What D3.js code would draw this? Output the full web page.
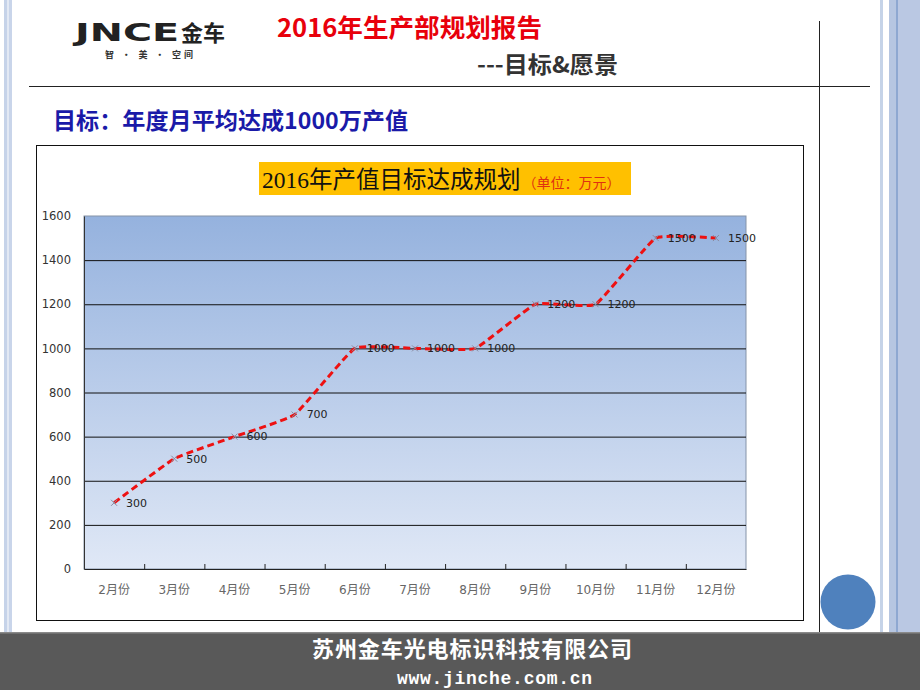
<!DOCTYPE html>
<html>
<head>
<meta charset="utf-8">
<script src="https://cdn.jsdelivr.net/npm/d3@7"></script>
<style>
  body { margin: 0; background: #fff; }
  svg { display: block; }
</style>
</head>
<body>
<div id="slide"></div>
<script>

// chart data
let months = ["2月份", "3月份", "4月份", "5月份", "6月份", "7月份", "8月份", "9月份", "10月份", "11月份", "12月份"];
let targets = [300, 500, 600, 700, 1000, 1000, 1000, 1200, 1200, 1500, 1500];
let yTicks = [0, 200, 400, 600, 800, 1000, 1200, 1400, 1600];


let W = 920; let H = 690;
let plot = {left: 84, right: 746, top: 216, bottom: 569};

let svg = d3.select("#slide")
    .append("svg")
    .attr("width", W)
    .attr("height", H);

svg.append("rect").attr("width", W).attr("height", H).attr("fill", "#fff");

// side stripes of the slide theme
let stripes = [
  [4, 3, "#c6d3e9"], [7, 2, "#e3e9f4"], [9, 3, "#c9d5ea"],
  [880, 3, "#c5d3e8"], [889, 7, "#b6c6e1"], [896, 2, "#8ea8d1"], [898, 22, "#bac8e3"]
];
svg.selectAll("rect.stripe")
  .data(stripes)
  .enter().append("rect")
    .attr("class", "stripe")
    .attr("x", d => d[0]).attr("y", 0)
    .attr("width", d => d[1]).attr("height", 632)
    .attr("fill", d => d[2]);

// header
svg.append("text")
    .attr("x", 75).attr("y", 41)
    .attr("textLength", 104).attr("lengthAdjust", "spacingAndGlyphs")
    .style("font", "bold 25px 'DejaVu Sans'")
    .attr("fill", "#222")
    .text("JNCE");
svg.append("text")
    .attr("x", 181).attr("y", 41)
    .style("font", "bold 22px 'Noto Sans CJK SC'")
    .attr("fill", "#222")
    .text("金车");
svg.append("text")
    .attr("x", 105).attr("y", 58)
    .attr("textLength", 88)
    .style("font", "bold 9px 'Noto Sans CJK SC'")
    .attr("fill", "#333")
    .text("智 · 美 · 空间");

svg.append("text")
    .attr("x", 277).attr("y", 37)
    .attr("textLength", 265).attr("lengthAdjust", "spacingAndGlyphs")
    .style("font", "bold 25px 'Noto Sans CJK SC'")
    .attr("fill", "#e8000b")
    .text("2016年生产部规划报告");

svg.append("text")
    .attr("x", 477).attr("y", 73)
    .attr("textLength", 141).attr("lengthAdjust", "spacingAndGlyphs")
    .style("font", "bold 23px 'Noto Sans CJK SC'")
    .attr("fill", "#333")
    .text("---目标&愿景");

svg.append("line")
    .attr("x1", 29).attr("x2", 870).attr("y1", 86.5).attr("y2", 86.5)
    .attr("stroke", "#222");
svg.append("line")
    .attr("x1", 819.5).attr("x2", 819.5).attr("y1", 21).attr("y2", 632)
    .attr("stroke", "#222");

svg.append("text")
    .attr("x", 53).attr("y", 129)
    .attr("textLength", 355).attr("lengthAdjust", "spacingAndGlyphs")
    .style("font", "bold 23px 'Noto Sans CJK SC'")
    .attr("fill", "#1a1aa8")
    .text("目标：年度月平均达成1000万产值");

// chart frame
svg.append("rect")
    .attr("x", 36.5).attr("y", 145.5)
    .attr("width", 767).attr("height", 475)
    .attr("fill", "#fff").attr("stroke", "#111");

// chart title
svg.append("rect")
    .attr("x", 259).attr("y", 162)
    .attr("width", 372).attr("height", 33)
    .attr("fill", "#ffc000");
let ttl = svg.append("text")
    .attr("x", 262).attr("y", 188);
ttl.append("tspan")
    .style("font", "23.5px 'Liberation Serif', 'Noto Sans CJK SC'")
    .attr("fill", "#111")
    .text("2016年产值目标达成规划");
ttl.append("tspan")
    .attr("dx", 2)
    .style("font", "14px 'Noto Sans CJK SC'")
    .attr("fill", "#e03010")
    .text("（单位：万元）");

// plot area
let defs = svg.append("defs");
let grad = defs.append("linearGradient")
    .attr("id", "bg").attr("x1", 0).attr("x2", 0).attr("y1", 0).attr("y2", 1);
grad.append("stop").attr("offset", "0%").attr("stop-color", "#95b2de");
grad.append("stop").attr("offset", "100%").attr("stop-color", "#e0e8f6");

let x = d3.scaleBand()
    .domain(months)
    .range([plot.left, plot.right])
    .padding(0);

let y = d3.scaleLinear()
    .domain([0, 1600])
    .range([plot.bottom, plot.top]);

svg.append("rect")
    .attr("x", plot.left).attr("y", plot.top)
    .attr("width", plot.right - plot.left).attr("height", plot.bottom - plot.top)
    .attr("fill", "url(#bg)")
    .attr("stroke", "#8593a8");

// gridlines
let grid = svg.append("g")
    .attr("transform", `translate(${plot.left},0)`)
    .call(d3.axisLeft(y).tickValues(yTicks.slice(1, -1)).tickSize(-(plot.right - plot.left)).tickFormat(""));
grid.select(".domain").remove();
grid.selectAll("line").attr("stroke", "#111");

// y axis
let yAxis = svg.append("g")
    .attr("transform", `translate(${plot.left},0)`)
    .call(d3.axisLeft(y).tickValues(yTicks).tickSize(0).tickPadding(13).tickFormat(d3.format("d")));
yAxis.select(".domain").attr("stroke", "#333");
yAxis.selectAll("text")
    .style("font", "11.5px 'DejaVu Sans'")
    .attr("fill", "#333");

// x axis
let xAxis = svg.append("g")
    .attr("transform", `translate(0,${plot.bottom})`)
    .call(d3.axisBottom(x).tickSize(0).tickPadding(16));
xAxis.select(".domain").attr("stroke", "#222");
xAxis.selectAll("text")
    .style("font", "12px 'DejaVu Sans', 'Noto Sans CJK SC'")
    .attr("fill", "#666");

// inner tick marks between months
svg.append("g")
  .selectAll("line")
  .data(months.slice(1))
  .enter().append("line")
    .attr("x1", d => x(d) + 0.5).attr("x2", d => x(d) + 0.5)
    .attr("y1", plot.bottom).attr("y2", plot.bottom - 5)
    .attr("stroke", "#222");

// line
let cx = d => x(d) + x.bandwidth() / 2;
let pts = months.map((m, i) => [cx(m), y(targets[i])]);

let line = d3.line()
    .curve(d3.curveCardinal.tension(0.65));

svg.append("path")
    .attr("d", line(pts))
    .attr("fill", "none")
    .attr("stroke", "#ee1111")
    .attr("stroke-width", 3)
    .attr("stroke-dasharray", "7,4");

// markers
let mk = svg.append("g")
  .selectAll("path")
  .data(pts)
  .enter().append("path")
    .attr("d", d => `M${d[0]-3},${d[1]-3}L${d[0]+3},${d[1]+3}M${d[0]-3},${d[1]+3}L${d[0]+3},${d[1]-3}`)
    .attr("stroke", "#8a8aa0")
    .attr("stroke-width", 1);

// data labels
svg.append("g")
  .selectAll("text")
  .data(targets)
  .enter().append("text")
    .attr("x", (d, i) => pts[i][0] + 12)
    .attr("y", (d, i) => pts[i][1])
    .attr("dy", "0.35em")
    .style("font", "11px 'DejaVu Sans'")
    .attr("fill", "#222")
    .text(d => d);

// footer
svg.append("rect")
    .attr("x", 0).attr("y", 632)
    .attr("width", W).attr("height", 58)
    .attr("fill", "#595959");
svg.append("rect")
    .attr("x", 0).attr("y", 632)
    .attr("width", W).attr("height", 1.5)
    .attr("fill", "#8a8a8a");

svg.append("circle")
    .attr("cx", 848).attr("cy", 602).attr("r", 27.5)
    .attr("fill", "#4f81bd");

svg.append("text")
    .attr("x", 312).attr("y", 657)
    .attr("textLength", 320)
    .style("font", "bold 22px 'Noto Sans CJK SC'")
    .attr("fill", "#fff")
    .text("苏州金车光电标识科技有限公司");

svg.append("text")
    .attr("x", 397).attr("y", 684)
    .attr("textLength", 195)
    .style("font", "bold 18px 'Liberation Mono', 'DejaVu Sans Mono'")
    .attr("fill", "#fff")
    .text("www.jinche.com.cn");

</script>
</body>
</html>
